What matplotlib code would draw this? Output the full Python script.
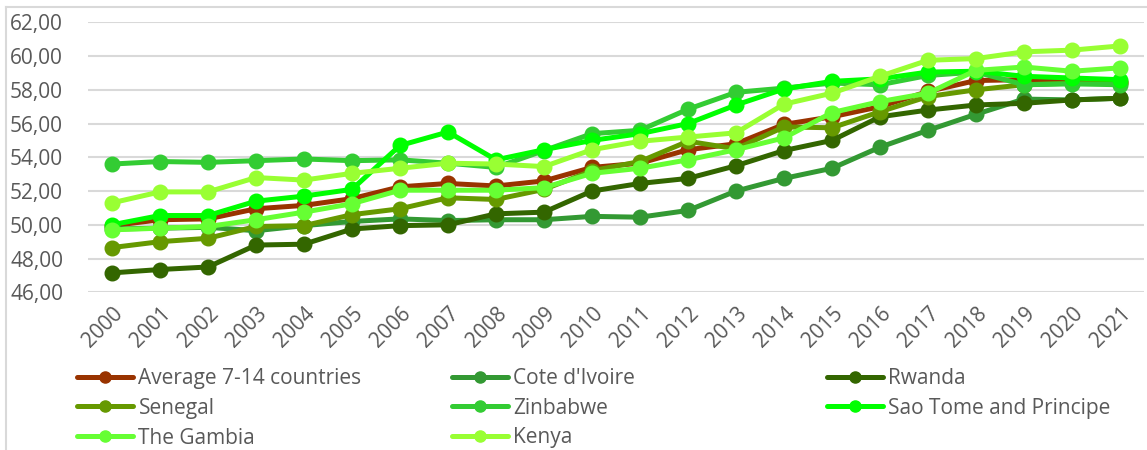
import numpy as np
import matplotlib
matplotlib.use("Agg")
import matplotlib.pyplot as plt
from matplotlib.lines import Line2D
from matplotlib.ticker import FuncFormatter

plt.rcParams['font.family'] = ['Open Sans', 'DejaVu Sans']

years = [str(y) for y in range(2000, 2022)]

average = [49.95, 50.3, 50.35, 50.95, 51.15, 51.55, 52.25, 52.45, 52.3, 52.6, 53.4,
           53.65, 54.45, 54.8, 55.95, 56.4, 57.0, 57.9, 58.55, 58.6, 58.5, 58.45]
cote = [49.75, 49.8, 49.85, 49.65, 49.95, 50.2, 50.35, 50.25, 50.3, 50.3, 50.5,
        50.45, 50.85, 52.0, 52.75, 53.35, 54.6, 55.6, 56.55, 57.45, 57.4, 57.5]
rwanda = [47.15, 47.35, 47.5, 48.8, 48.85, 49.75, 49.95, 50.0, 50.65, 50.75, 52.0,
          52.45, 52.75, 53.5, 54.4, 55.0, 56.4, 56.8, 57.1, 57.2, 57.4, 57.5]
senegal = [48.65, 49.0, 49.2, 49.9, 49.95, 50.6, 50.95, 51.6, 51.5, 52.1, 53.2,
           53.75, 54.95, 54.5, 55.8, 55.75, 56.7, 57.6, 58.0, 58.3, 58.4, 58.4]
zimbabwe = [53.6, 53.75, 53.7, 53.8, 53.9, 53.8, 53.85, 53.65, 53.4, 54.4, 55.4,
            55.6, 56.85, 57.85, 58.1, 58.4, 58.3, 58.85, 59.05, 58.3, 58.35, 58.3]
saotome = [50.0, 50.55, 50.55, 51.4, 51.7, 52.1, 54.7, 55.5, 53.85, 54.45, 55.0,
           55.4, 56.0, 57.1, 58.05, 58.5, 58.65, 59.05, 59.1, 58.8, 58.7, 58.6]
gambia = [49.7, 49.8, 49.9, 50.3, 50.75, 51.25, 52.05, 52.05, 52.05, 52.2, 53.05,
          53.35, 53.85, 54.45, 55.15, 56.65, 57.3, 57.8, 59.15, 59.35, 59.1, 59.3]
kenya = [51.3, 51.95, 51.95, 52.8, 52.65, 53.05, 53.35, 53.65, 53.6, 53.45, 54.45,
         54.95, 55.2, 55.45, 57.15, 57.8, 58.8, 59.75, 59.85, 60.25, 60.35, 60.6]

names = ["Average 7-14 countries", "Cote d'Ivoire", "Rwanda", "Senegal",
         "Zinbabwe", "Sao Tome and Principe", "The Gambia", "Kenya"]
series = [average, cote, rwanda, senegal, zimbabwe, saotome, gambia, kenya]
colors = ["#993300", "#339933", "#336600", "#669900",
          "#33cc33", "#00ff00", "#66ff33", "#99ff33"]

W, H = 1147, 450
fig = plt.figure(figsize=(W / 100, H / 100), dpi=100)
ax = fig.add_axes([88 / W, 1 - 292.3 / H, (1144 - 88) / W, (292.3 - 22.3) / H])

x = np.arange(len(years))
handles = []
for name, vals, c in zip(names, series, colors):
    h, = ax.plot(x, vals, color=c, lw=3.6, marker='o', markersize=10.5,
                 label=name, solid_capstyle='round')
    handles.append(h)

ax.set_xlim(-0.5, len(years) - 0.5)
ax.set_ylim(46, 62)
ax.set_yticks(np.arange(46, 62.1, 2))
ax.yaxis.set_major_formatter(FuncFormatter(lambda v, p: f"{v:.2f}".replace('.', ',')))
ax.set_xticks(x)
ax.set_xticklabels(years, rotation=45, ha='right', rotation_mode='anchor')
ax.grid(axis='y', color='#d9d9d9', lw=1.5)
ax.set_axisbelow(True)
for s in ax.spines.values():
    s.set_visible(False)
ax.tick_params(axis='both', length=0, labelsize=15, colors='#595959')
ax.tick_params(axis='y', pad=18)
ax.tick_params(axis='x', pad=8)

# chart border (top and left visible in the crop)
fig.add_artist(Line2D([6 / W, 6 / W], [0, 1 - 7 / H], color='#d9d9d9', lw=1.5))
fig.add_artist(Line2D([6 / W, 1], [1 - 7 / H, 1 - 7 / H], color='#d9d9d9', lw=1.5))

# legend: three columns, filled row by row
col_x = [77, 452, 827]
for i, cx in enumerate(col_x):
    hs = handles[i::3]
    leg = fig.legend(handles=hs, labels=[h.get_label() for h in hs],
                     loc='upper left', bbox_to_anchor=(cx / W, 1 - 368 / H),
                     frameon=False, fontsize=15, handlelength=2.7, handletextpad=0.25,
                     labelspacing=0.42, borderpad=0, borderaxespad=0)
    for t in leg.get_texts():
        t.set_color('#595959')
    for lh in leg.legend_handles:
        lh.set_markersize(8)

fig.savefig("out.png", dpi=100)
